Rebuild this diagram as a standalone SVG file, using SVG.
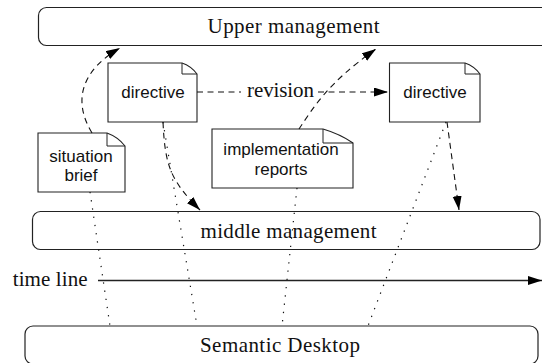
<svg xmlns="http://www.w3.org/2000/svg" width="542" height="363" viewBox="0 0 542 363">
<style>
.box{fill:#fff;stroke:#222;stroke-width:1.2}
.doc{fill:#fff;stroke:#222;stroke-width:1.1}
.fold{fill:none;stroke:#222;stroke-width:1}
.serif{font-family:"Liberation Serif","Times New Roman",serif;font-size:21px;fill:#111}
.sans{font-family:"Liberation Sans",Arial,sans-serif;font-size:17px;fill:#111}
.dash{fill:none;stroke:#111;stroke-width:1.1;stroke-dasharray:6,4.5}
.dot{fill:none;stroke:#111;stroke-width:1.2;stroke-dasharray:1.3,7}
.solid{fill:none;stroke:#222;stroke-width:1.3}
</style>
<defs>
<marker id="ah" markerUnits="userSpaceOnUse" markerWidth="15" markerHeight="10" refX="14" refY="4.5" orient="auto">
<path d="M0,0 L14,4.5 L0,9 z" fill="#000"/>
</marker>
</defs>
<g id="upper-management">
<rect class="box" x="38.5" y="7.5" width="540" height="38" rx="8"/>
<text class="serif" x="293.5" y="33" text-anchor="middle" textLength="172">Upper management</text>
</g>
<g id="middle-management">
<rect class="box" x="32.5" y="211.5" width="507.5" height="38" rx="8"/>
<text class="serif" x="288.5" y="238" text-anchor="middle" textLength="176">middle management</text>
</g>
<g id="semantic-desktop">
<rect class="box" x="25" y="326" width="513" height="38" rx="8"/>
<text class="serif" x="280" y="352" text-anchor="middle" textLength="160">Semantic Desktop</text>
</g>
<g id="time-line">
<text class="serif" x="12.7" y="286" textLength="75">time line</text>
</g>
<g id="directive-1">
<path class="doc" d="M108,63 H182 Q191,66 197,74 V122 H108 Z"/>
<path class="fold" d="M182,63 V74 H197"/>
<text class="sans" x="153" y="98" text-anchor="middle">directive</text>
</g>
<g id="directive-2">
<path class="doc" d="M389.5,63 H465 Q474,66 480,74 V122 H389.5 Z"/>
<path class="fold" d="M465,63 V74 H480"/>
<text class="sans" x="435" y="98" text-anchor="middle">directive</text>
</g>
<g id="situation-brief">
<path class="doc" d="M38,133 H107 Q118,137 125,146 V192 H38 Z"/>
<path class="fold" d="M107,133 V146 H125"/>
<text class="sans" x="81" y="162" text-anchor="middle">situation</text>
<text class="sans" x="81" y="181" text-anchor="middle">brief</text>
</g>
<g id="implementation-reports">
<path class="doc" d="M212,129 H323 Q340,134 353,143 V188 H212 Z"/>
<path class="fold" d="M323,129 V143 H353"/>
<text class="sans" x="281" y="155" text-anchor="middle">implementation</text>
<text class="sans" x="281" y="175" text-anchor="middle">reports</text>
</g>
<g id="connectors">
<path class="dash" d="M92,133 C72,100 82,70 120,48" marker-end="url(#ah)"/>
<path class="dash" d="M163,122 C165,165 170,180 200,210" marker-end="url(#ah)"/>
<path class="dash" d="M197,92 H241"/>
<path class="dash" d="M318,92 H388" marker-end="url(#ah)"/>
<path class="dash" d="M299,129 C312,110 326,84 376,49" marker-end="url(#ah)"/>
<path class="dash" d="M447,122 L459,210" marker-end="url(#ah)"/>
<path class="dot" d="M90,192 L110,326"/>
<path class="dot" d="M163,122 L197,326"/>
<path class="dot" d="M297,188 L282,326"/>
<path class="dot" d="M446,122 L368,326"/>
<path class="solid" d="M98,280.5 H542" marker-end="url(#ah)"/>
</g>
<g id="revision-label">
<text class="serif" x="280.5" y="97" text-anchor="middle" textLength="67">revision</text>
</g>
</svg>
